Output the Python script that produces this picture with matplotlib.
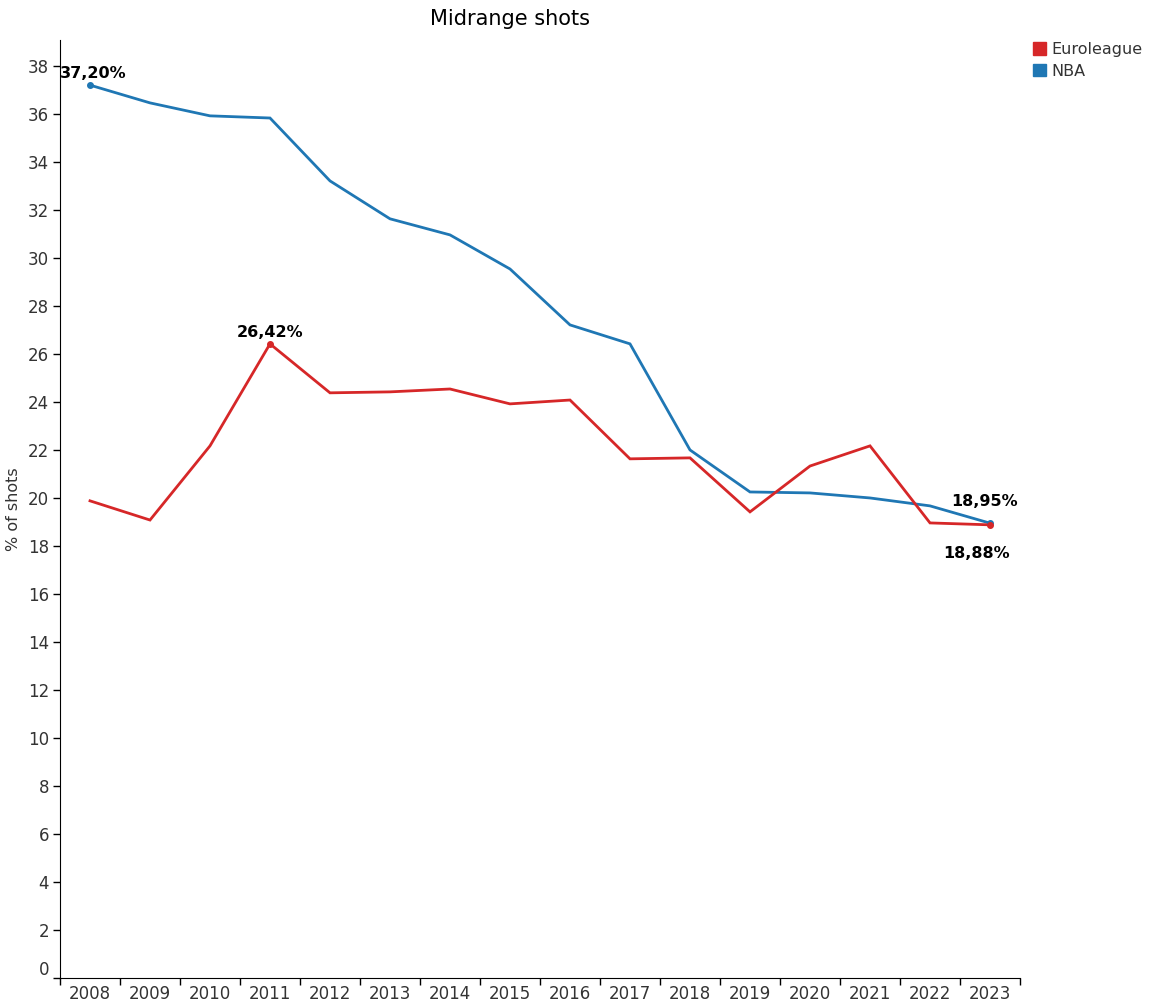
import matplotlib
matplotlib.use("Agg")
import matplotlib.pyplot as plt
import matplotlib.transforms as mtrans
from matplotlib.patches import Patch
import numpy as np

plt.rcParams['font.family'] = ['DejaVu Sans']

years = [str(y) for y in range(2008, 2024)]
nba = [37.20, 36.46, 35.92, 35.83, 33.21, 31.63, 30.96, 29.54,
       27.21, 26.42, 22.00, 20.25, 20.21, 20.00, 19.67, 18.95]
euroleague = [19.88, 19.08, 22.17, 26.42, 24.38, 24.42, 24.54, 23.92,
              24.08, 21.63, 21.67, 19.42, 21.33, 22.17, 18.96, 18.88]

red = "#d62728"
blue = "#1f77b4"
grey = "#333333"

fig = plt.figure(figsize=(11.7, 10.01), dpi=100)
ax = fig.add_axes([60/1170, 23/1001, 960/1170, 938/1001])

x = np.arange(len(years))
ax.plot(x, nba, color=blue, lw=2.0, solid_joinstyle="miter")
ax.plot(x, euroleague, color=red, lw=2.0, solid_joinstyle="miter")

# highlighted points with value labels
def lab(v):
    return ("%.2f" % v).replace(".", ",") + "%"

marks = [
    (0, nba[0], blue, (2, 3), "bottom"),
    (3, euroleague[3], red, (0, 3), "bottom"),
    (15, nba[15], blue, (-4, 10), "bottom"),
    (15, euroleague[15], red, (-10, -15), "top"),
]
for i, v, c, off, va in marks:
    ax.plot(i, v, "o", color=c, ms=4)
    ax.annotate(lab(v), (i, v), xytext=off, textcoords="offset points",
                ha="center", va=va, fontsize=11.5, fontweight="bold")

ax.set_xlim(-0.5, len(years) - 0.5)
ax.set_ylim(0, 39.08)
ax.set_xticks(x)
ax.set_xticklabels(years)
ax.set_xticks(np.arange(-0.5, len(years)), minor=True)
ax.tick_params(axis="x", which="major", length=0, pad=5, labelsize=12, labelcolor=grey)
ax.tick_params(axis="x", which="minor", length=5, width=1)
ax.set_yticks(np.arange(0, 39, 2))
ax.tick_params(axis="y", length=5, width=1, pad=3, labelsize=12, labelcolor=grey)

# flush the zero label upwards like the original
zl = ax.get_yticklabels()[0]
zl.set_transform(zl.get_transform() + mtrans.ScaledTranslation(0, 7/72, fig.dpi_scale_trans))

for s in ["top", "right"]:
    ax.spines[s].set_visible(False)
ax.set_ylabel("% of shots", fontsize=11.5, color=grey, labelpad=5)

fig.text(510/1170, 1 - 19/1001, "Midrange shots", ha="center", va="center", fontsize=15)

handles = [Patch(color=red, label="Euroleague"), Patch(color=blue, label="NBA")]
fig.legend(handles=handles, loc="upper left", bbox_to_anchor=(1033/1170, 1 - 42/1001),
           frameon=False, fontsize=11.5, handlelength=0.8, handleheight=0.8,
           handletextpad=0.35, labelspacing=0.42, borderaxespad=0, borderpad=0,
           labelcolor=grey)

fig.savefig("out.png", dpi=100)
